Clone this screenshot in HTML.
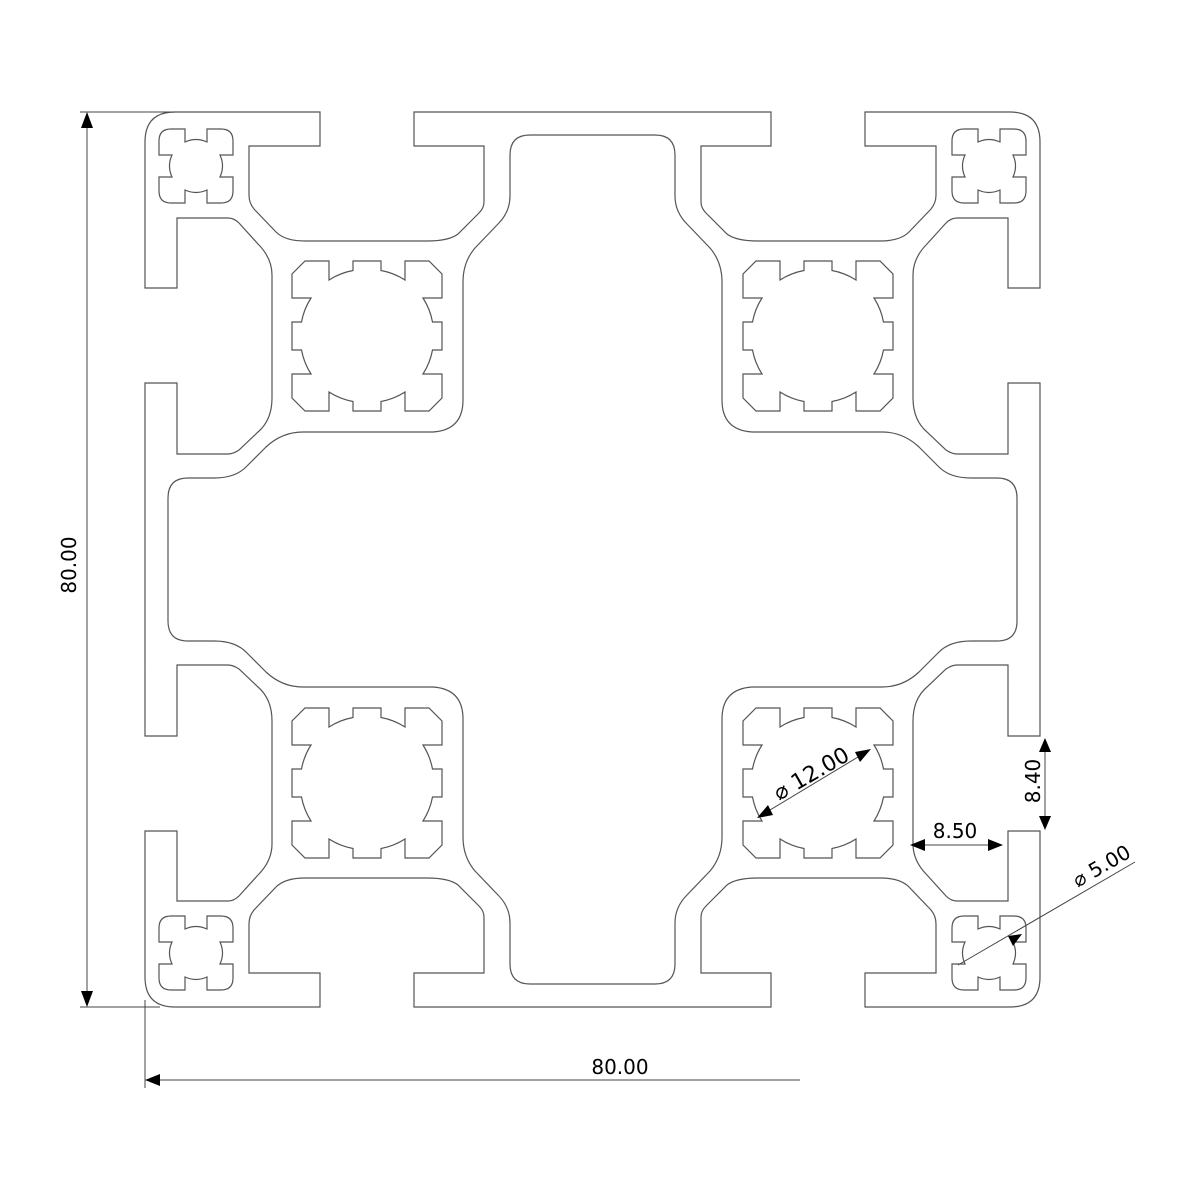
<!DOCTYPE html>
<html><head><meta charset="utf-8"><style>
html,body{margin:0;padding:0;background:#fff;}
svg{display:block;}
text{font-family:"DejaVu Sans","Liberation Sans",sans-serif;font-size:20px;fill:#000;}
</style></head><body>
<svg width="1200" height="1200" viewBox="0 0 1200 1200" xmlns="http://www.w3.org/2000/svg">
<defs>
<g id="q" fill="none" stroke="#555" stroke-width="1.2">
  <path d="M592.5,112 H414 V146 H484 V202 Q484,208 479,213 L458,234 Q449,241 427,241 H305 Q285,241 276,232 L254,209 Q249,203 249,195 V146 H320 V112 H175 Q145,112 145,142 V288 H177 V218 H228 Q234,218 239,223 L258,244 Q272,258 272,275 V398 Q272,420 258,432 L239,450 Q233,454 228,454 H177 V383 H145 V559.5"/>
  <path d="M592.5,135 H530 Q510,135 510,155 V196 Q510,212 498,224 L475,248 Q463,262 463,282 V400 Q463,430 433,432 H303 Q282,432 266,447 L247,466 Q236,478 214,478 H188 Q168,478 168,498 V559.5"/>
  <path transform="translate(367,336)" d="M-62,-75 H-38 V-56 A67,67 0 0 1 -14,-65.5 V-75 H14 V-65.5 A67,67 0 0 1 38,-56 V-75 H62 L75,-62 V-38 H56 A67,67 0 0 1 65.5,-14 H75 V14 H65.5 A67,67 0 0 1 56,38 H75 V62 L62,75 H38 V56 A67,67 0 0 1 14,65.5 V75 H-14 V65.5 A67,67 0 0 1 -38,56 V75 H-62 L-75,62 V38 H-56 A67,67 0 0 1 -65.5,14 H-75 V-14 H-65.5 A67,67 0 0 1 -56,-38 H-75 V-62 Z"/>
  <path transform="translate(196,166)" d="M-25,-37 H-11 V-24 A26.4,26.4 0 0 1 11,-24 V-37 H25 Q37,-37 37,-25 V-11 H24 A26.4,26.4 0 0 1 24,11 H37 V25 Q37,37 25,37 H11 V24 A26.4,26.4 0 0 1 -11,24 V37 H-25 Q-37,37 -37,25 V11 H-24 A26.4,26.4 0 0 1 -24,-11 H-37 V-25 Q-37,-37 -25,-37 Z"/>
</g>
</defs>
<use href="#q"/>
<use href="#q" transform="translate(1185,0) scale(-1,1)"/>
<use href="#q" transform="translate(0,1119) scale(1,-1)"/>
<use href="#q" transform="translate(1185,1119) scale(-1,-1)"/>

<g stroke="#444" stroke-width="1" fill="none">
  <line x1="80" y1="112" x2="175" y2="112"/>
  <line x1="80" y1="1007" x2="160" y2="1007"/>
  <line x1="87" y1="125" x2="87" y2="995"/>
  <line x1="145" y1="1000" x2="145" y2="1088"/>
  <line x1="158" y1="1080" x2="800" y2="1080"/>
  <line x1="1045" y1="750" x2="1045" y2="820"/>
  <line x1="922" y1="845" x2="990" y2="845"/>
  <line x1="760" y1="816" x2="868" y2="751"/>
  <line x1="958" y1="965" x2="1135" y2="862"/>
</g>
<g fill="#000">
  <polygon points="87,112 81,128 93,128"/>
  <polygon points="87,1007 81,991 93,991"/>
  <polygon points="145,1080 160,1074 160,1086"/>
  <polygon points="1045,738 1039,752 1051,752"/>
  <polygon points="1045,830 1039,816 1051,816"/>
  <polygon points="910,845 925,839 925,851"/>
  <polygon points="1003,845 988,839 988,851"/>
  <polygon points="757,818 768,805 773,815"/>
  <polygon points="871,749 855,752 860,762"/>
  <polygon points="1022,934 1008,936 1013,946"/>
</g>
<text x="76" y="565" text-anchor="middle" transform="rotate(-90 76 565)">80.00</text>
<text x="620" y="1074" text-anchor="middle">80.00</text>
<text x="1040" y="781" text-anchor="middle" transform="rotate(-90 1040 781)">8.40</text>
<text x="955" y="838" text-anchor="middle">8.50</text>
<text x="815" y="780" text-anchor="middle" transform="rotate(-30 815 780)" style="font-size:22px">⌀ 12.00</text>
<text x="1105" y="872" text-anchor="middle" transform="rotate(-30 1105 872)">⌀ 5.00</text>
</svg>
</body></html>
